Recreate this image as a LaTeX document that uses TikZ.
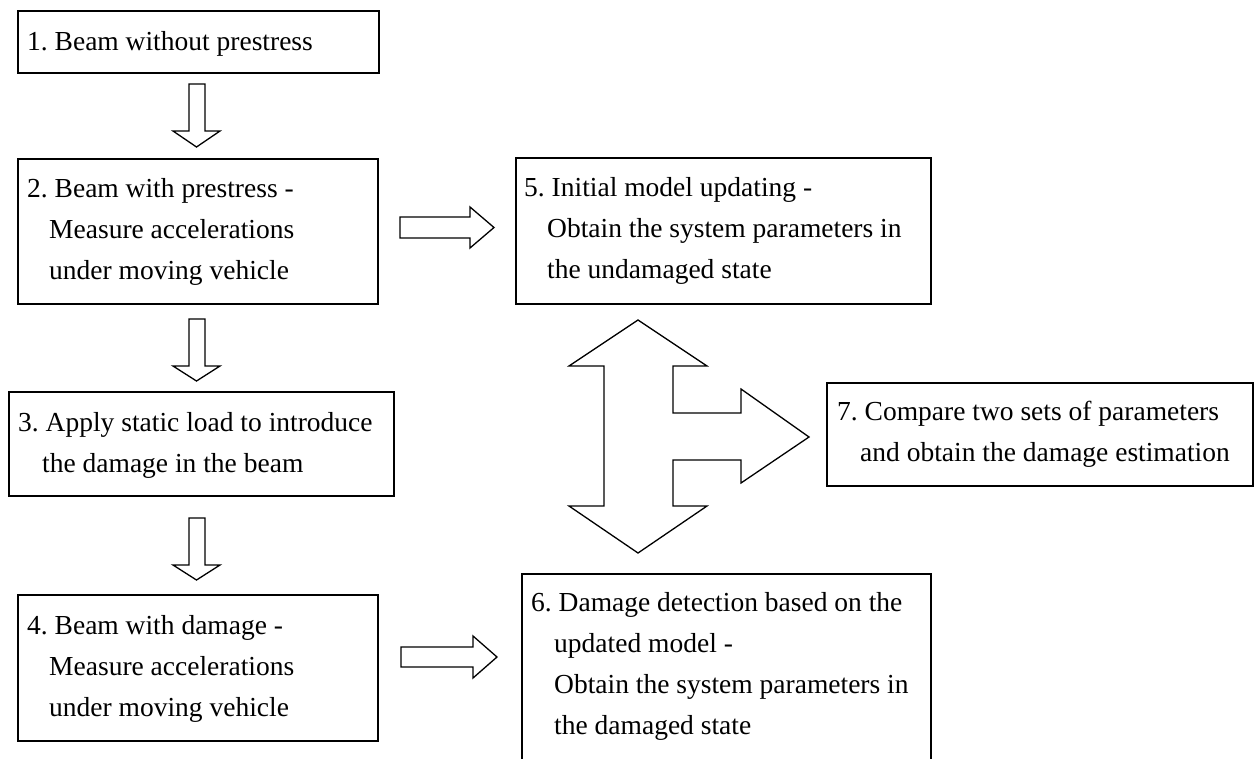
\documentclass[tikz,border=0pt]{standalone}
\usepackage{fontspec}
\setmainfont{Liberation Serif}
\frenchspacing
\begin{document}
\begin{tikzpicture}[x=1pt,y=-1pt,
  box/.style={draw, line width=1.5pt, rectangle, inner sep=0pt, anchor=north west},
  txt/.style={anchor=base west, inner sep=0pt, align=left, font={\fontsize{27.5}{41}\selectfont\frenchspacing}},
  blockarrow/.style={draw, line width=1.3pt, fill=white, line join=miter}]
\useasboundingbox (0,0) rectangle (1255,758);
\clip (0,0) rectangle (1255,758);
\fill[white] (0,0) rectangle (1255,758);
% boxes
\node[box, minimum width=361pt, minimum height=62pt] (b1) at (17,10) {};
\node[box, minimum width=360pt, minimum height=145pt] (b2) at (17,158) {};
\node[box, minimum width=385pt, minimum height=104pt] (b3) at (8,391) {};
\node[box, minimum width=360pt, minimum height=146pt] (b4) at (17,594) {};
\node[box, minimum width=415pt, minimum height=146pt] (b5) at (515,157) {};
\node[box, minimum width=409pt, minimum height=230pt] (b6) at (521,573) {};
\node[box, minimum width=426pt, minimum height=103pt] (b7) at (826,382) {};
% texts (anchored at the baseline of the last line)
\node[txt] (t1) at (27,50) {1. Beam without prestress};
\node[txt] (t2) at (27,279) {2. Beam with prestress -\\\hspace*{22pt}Measure accelerations\\\hspace*{22pt}under moving vehicle};
\node[txt] (t3) at (18,472) {3. Apply static load to introduce\\\hspace*{24pt}the damage in the beam};
\node[txt] (t4) at (27,716) {4. Beam with damage -\\\hspace*{22pt}Measure accelerations\\\hspace*{22pt}under moving vehicle};
\node[txt] (t5) at (524,278) {5. Initial model updating -\\\hspace*{23pt}Obtain the system parameters in\\\hspace*{23pt}the undamaged state};
\node[txt] (t6) at (531,734) {6. Damage detection based on the\\\hspace*{23pt}updated model -\\\hspace*{23pt}Obtain the system parameters in\\\hspace*{23pt}the damaged state};
\node[txt] (t7) at (837,461) {7. Compare two sets of parameters\\\hspace*{23pt}and obtain the damage estimation};
% down arrows
\draw[blockarrow] (189,84) -- (205,84) -- (205,131) -- (220,131) -- (196.5,147) -- (173,131) -- (189,131) -- cycle;
\draw[blockarrow] (189,319) -- (205,319) -- (205,366) -- (220,366) -- (196.5,381) -- (173,366) -- (189,366) -- cycle;
\draw[blockarrow] (189,518) -- (205,518) -- (205,565) -- (220,565) -- (196.5,580) -- (173,565) -- (189,565) -- cycle;
% right arrows
\draw[blockarrow] (400,217) -- (470,217) -- (470,207) -- (494,227.5) -- (470,248) -- (470,238) -- (400,238) -- cycle;
\draw[blockarrow] (401,647) -- (473,647) -- (473,636) -- (497,657) -- (473,678) -- (473,667) -- (401,667) -- cycle;
% three-way arrow
\draw[blockarrow] (638,320) -- (707,366) -- (673,366) -- (673,413) -- (741,413) -- (741,389) -- (809,437) -- (741,483) -- (741,460) -- (673,460) -- (673,506) -- (707,506) -- (638,553) -- (569,506) -- (604,506) -- (604,366) -- (569,366) -- cycle;
\end{tikzpicture}
\end{document}
